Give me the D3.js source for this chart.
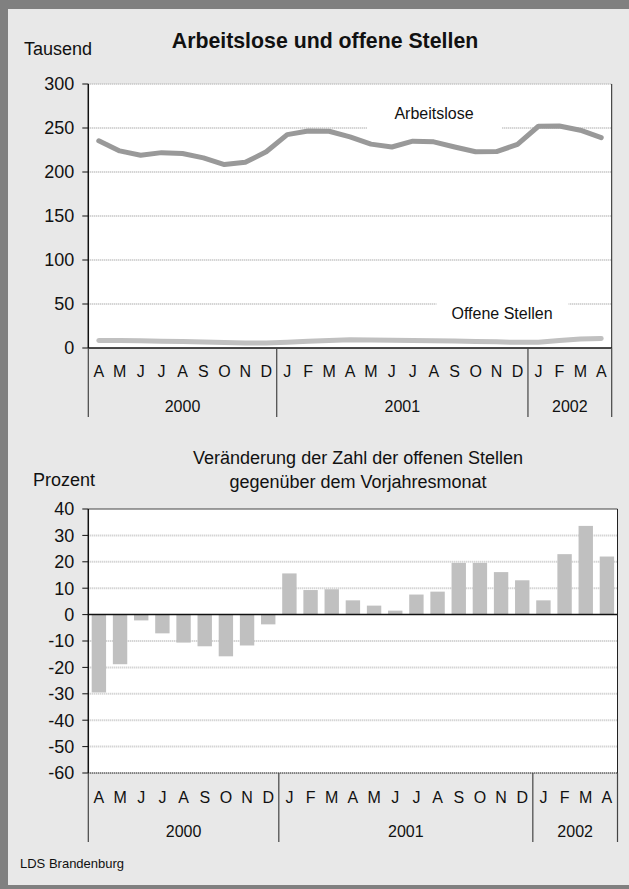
<!DOCTYPE html>
<html>
<head>
<meta charset="utf-8">
<script src="https://cdn.jsdelivr.net/npm/d3@7/dist/d3.min.js"></script>
<style>
  html, body { margin: 0; padding: 0; background: #808080; }
  svg { display: block; }
  text { font-family: "Liberation Sans", Arial, sans-serif; fill: #111; }
</style>
</head>
<body>
<svg id="chart" width="629" height="889"></svg>
<script>
// data
var months = ["A","M","J","J","A","S","O","N","D","J","F","M","A","M","J","J","A","S","O","N","D","J","F","M","A"];
var yearLabels = ["2000", "2001", "2002"];
var yearMonths = [9, 12, 4];

// Tausend
var arbeitslose = [235.4, 224, 219, 222, 221, 216, 208.5, 211, 223, 242.5, 246.5, 246.3, 240, 231.7, 228.4, 235, 234.3, 228.4, 223, 223.2, 231.3, 252, 252.3, 247.5, 239];
var offeneStellen = [8.5, 8.6, 8.3, 7.6, 7.3, 6.8, 6.2, 5.8, 5.6, 6.5, 7.6, 8.5, 9.4, 9.2, 8.9, 8.5, 8.3, 8, 7.5, 7, 6.4, 6.5, 8.6, 10.2, 10.8];
var topTicks = [0, 50, 100, 150, 200, 250, 300];

// Prozent, Veränderung gegenüber Vorjahresmonat
var veraenderung = [-29.5, -18.8, -2.2, -7.1, -10.6, -12.0, -15.8, -11.7, -3.7, 15.6, 9.3, 9.6, 5.4, 3.4, 1.5, 7.6, 8.7, 19.6, 19.6, 16.1, 13.0, 5.4, 22.9, 33.6, 22.0];
var bottomTicks = [-60, -50, -40, -30, -20, -10, 0, 10, 20, 30, 40];

var svg = d3.select("#chart");
var idx = d3.range(months.length);

// panel
svg.append("rect")
    .attr("x", 8).attr("y", 9)
    .attr("width", 621).attr("height", 876)
    .attr("fill", "#e8e8e8");

// helpers
function gridLines(g, ticks, y, x0, x1) {
    g.append("g").selectAll("line")
        .data(ticks)
        .enter().append("line")
        .attr("x1", x0).attr("x2", x1)
        .attr("y1", function(d) { return y(d); })
        .attr("y2", function(d) { return y(d); })
        .attr("stroke", "#c4c4c4")
        .attr("stroke-width", 2)
        .attr("stroke-dasharray", "1,1");
}

function yAxisLeft(g, ticks, y, x0) {
    var ax = g.append("g").attr("transform", "translate(" + x0 + ",0)");
    ax.selectAll("line.tick")
        .data(ticks)
        .enter().append("line")
        .attr("class", "tick")
        .attr("x1", -6).attr("x2", 0)
        .attr("y1", function(d) { return y(d); })
        .attr("y2", function(d) { return y(d); })
        .attr("stroke", "#111");
    ax.selectAll("text")
        .data(ticks)
        .enter().append("text")
        .attr("x", -14)
        .attr("y", function(d) { return y(d); })
        .attr("dy", "0.35em")
        .attr("text-anchor", "end")
        .style("font-size", "18px")
        .text(function(d) { return d; });
}

function monthAxis(g, x, yBase, monthY, yearY, bottomY) {
    g.append("g").selectAll("text")
        .data(idx)
        .enter().append("text")
        .attr("x", function(d) { return x(d) + x.bandwidth() / 2; })
        .attr("y", monthY)
        .attr("dy", "0.35em")
        .attr("text-anchor", "middle")
        .style("font-size", "16px")
        .text(function(d) { return months[d]; });

    var starts = [0];
    yearMonths.forEach(function(n, i) { starts.push(starts[i] + n); });
    var step = x.step();
    var x0 = x.range()[0];
    g.append("g").selectAll("line")
        .data(starts)
        .enter().append("line")
        .attr("x1", function(d) { return x0 + d * step; })
        .attr("x2", function(d) { return x0 + d * step; })
        .attr("y1", yBase).attr("y2", bottomY)
        .attr("stroke", "#444")
        .attr("stroke-width", 1.2);
    g.append("g").selectAll("text")
        .data(yearLabels)
        .enter().append("text")
        .attr("x", function(d, i) { return x0 + (starts[i] + yearMonths[i] / 2) * step; })
        .attr("y", yearY)
        .attr("dy", "0.35em")
        .attr("text-anchor", "middle")
        .style("font-size", "16px")
        .text(function(d) { return d; });
}

// ---------- top chart: Arbeitslose und offene Stellen ----------
var topG = svg.append("g");
var xTop = d3.scaleBand().domain(idx).range([88.3, 611.7]);
var yTop = d3.scaleLinear().domain([0, 300]).range([348, 84]);

topG.append("rect")
    .attr("x", 88.3).attr("y", yTop(300))
    .attr("width", 611.7 - 88.3).attr("height", yTop(0) - yTop(300))
    .attr("fill", "#fff");
gridLines(topG, topTicks.filter(function(d) { return d > 0; }), yTop, 88.3, 611.7);

// label boxes hide the grid behind the series names
topG.append("rect").attr("x", 367).attr("y", 98).attr("width", 135).attr("height", 38).attr("fill", "#fff");
topG.append("rect").attr("x", 436.5).attr("y", 296).attr("width", 132).attr("height", 36).attr("fill", "#fff");

var line = d3.line()
    .x(function(d, i) { return xTop(i) + xTop.bandwidth() / 2; })
    .y(function(d) { return yTop(d); });

topG.append("path")
    .datum(offeneStellen)
    .attr("d", line)
    .attr("fill", "none")
    .attr("stroke", "#c0c0c0")
    .attr("stroke-width", 5)
    .attr("stroke-linejoin", "round")
    .attr("stroke-linecap", "round");

topG.append("path")
    .datum(arbeitslose)
    .attr("d", line)
    .attr("fill", "none")
    .attr("stroke", "#999")
    .attr("stroke-width", 5)
    .attr("stroke-linejoin", "round")
    .attr("stroke-linecap", "round");

topG.append("text").attr("x", 434).attr("y", 113).attr("dy", "0.35em")
    .attr("text-anchor", "middle").style("font-size", "16px").text("Arbeitslose");
topG.append("text").attr("x", 502).attr("y", 313).attr("dy", "0.35em")
    .attr("text-anchor", "middle").style("font-size", "16px").text("Offene Stellen");

// frame
topG.append("line").attr("x1", 611.7).attr("x2", 611.7).attr("y1", yTop(300)).attr("y2", yTop(0)).attr("stroke", "#222");
topG.append("line").attr("x1", 88.3).attr("x2", 611.7).attr("y1", yTop(0)).attr("y2", yTop(0)).attr("stroke", "#111").attr("stroke-width", 1.5);
topG.append("line").attr("x1", 88.3).attr("x2", 88.3).attr("y1", yTop(300)).attr("y2", yTop(0)).attr("stroke", "#111").attr("stroke-width", 1.5);
yAxisLeft(topG, topTicks, yTop, 88.3);
monthAxis(topG, xTop, yTop(0), 371.5, 406.5, 417);

topG.append("text").attr("x", 24).attr("y", 55).style("font-size", "18px").text("Tausend");
topG.append("text").attr("x", 325).attr("y", 48).attr("text-anchor", "middle")
    .style("font-size", "21.3px").style("font-weight", "bold")
    .text("Arbeitslose und offene Stellen");

// ---------- bottom chart: Veränderung der offenen Stellen ----------
var botG = svg.append("g");
var xBot = d3.scaleBand().domain(idx).range([88.3, 617.5]);
var xBar = d3.scaleBand().domain(idx).range([88.3, 617.5]).paddingInner(0.32).paddingOuter(0.16);
var yBot = d3.scaleLinear().domain([-60, 40]).range([773, 509]);

botG.append("rect")
    .attr("x", 88.3).attr("y", yBot(40))
    .attr("width", 617.5 - 88.3).attr("height", yBot(-60) - yBot(40))
    .attr("fill", "#fff");
gridLines(botG, bottomTicks.filter(function(d) { return d !== 0 && d !== 40 && d !== -60; }), yBot, 88.3, 617.5);

botG.append("g").selectAll("rect")
    .data(veraenderung)
    .enter().append("rect")
    .attr("x", function(d, i) { return xBar(i); })
    .attr("width", xBar.bandwidth())
    .attr("y", function(d) { return yBot(Math.max(0, d)); })
    .attr("height", function(d) { return Math.abs(yBot(d) - yBot(0)); })
    .attr("fill", "#c0c0c0");

botG.append("line").attr("x1", 88.3).attr("x2", 617.5).attr("y1", yBot(40)).attr("y2", yBot(40)).attr("stroke", "#444").attr("stroke-width", 1.2);
botG.append("line").attr("x1", 88.3).attr("x2", 617.5).attr("y1", yBot(-60)).attr("y2", yBot(-60)).attr("stroke", "#555").attr("stroke-width", 2).attr("stroke-dasharray", "1,1");
botG.append("line").attr("x1", 88.3).attr("x2", 617.5).attr("y1", yBot(0)).attr("y2", yBot(0)).attr("stroke", "#111").attr("stroke-width", 1.5);
botG.append("line").attr("x1", 617.5).attr("x2", 617.5).attr("y1", yBot(40)).attr("y2", yBot(-60)).attr("stroke", "#222");
botG.append("line").attr("x1", 88.3).attr("x2", 88.3).attr("y1", yBot(40)).attr("y2", yBot(-60)).attr("stroke", "#111").attr("stroke-width", 1.5);
yAxisLeft(botG, bottomTicks, yBot, 88.3);
monthAxis(botG, xBot, yBot(-60), 797, 831.5, 842);

botG.append("text").attr("x", 33).attr("y", 486).style("font-size", "18px").text("Prozent");
botG.append("text").attr("x", 358).attr("y", 458).attr("dy", "0.35em").attr("text-anchor", "middle")
    .style("font-size", "18px").text("Veränderung der Zahl der offenen Stellen");
botG.append("text").attr("x", 358).attr("y", 482).attr("dy", "0.35em").attr("text-anchor", "middle")
    .style("font-size", "18px").text("gegenüber dem Vorjahresmonat");

svg.append("text").attr("x", 20).attr("y", 863).attr("dy", "0.35em")
    .style("font-size", "13px").text("LDS Brandenburg");
</script>
</body>
</html>
